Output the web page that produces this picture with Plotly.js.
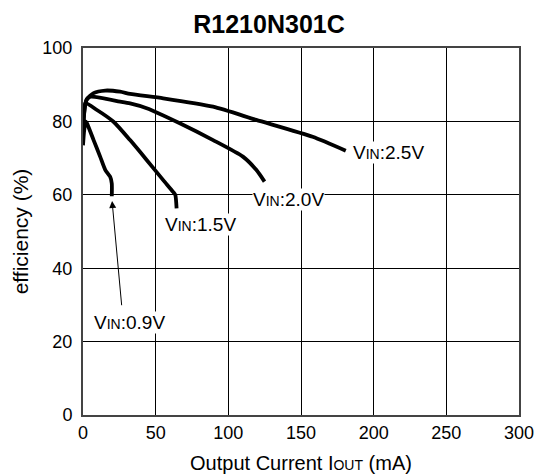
<!DOCTYPE html>
<html><head><meta charset="utf-8">
<script src="https://cdn.plot.ly/plotly-3.0.1.min.js"></script>
<style>body{margin:0;background:#fff}#c{width:538px;height:476px}</style>
</head><body><div id="c"></div>
<script>
const x09 = [0, 0.8, 1.8, 2.7, 7.3, 11.8, 15.3, 18.7, 19.8, 19.8];
const y09 = [73.5, 77.5, 80, 79.5, 74.9, 70.4, 66.8, 64.9, 63.1, 59.6];
const x15 = [0.3, 1.6, 9.6, 21, 32.4, 43.8, 55.2, 62, 63.5, 64.4];
const y15 = [78, 84.9, 83.1, 79.9, 74.9, 69.5, 64, 60.8, 60, 56.3];
const x20 = [0.3, 2, 5, 25.5, 32.4, 43.8, 66.6, 89.5, 110, 119.2, 124.9];
const y20 = [80, 85.5, 86.7, 85.4, 84.9, 83.6, 79.5, 74.9, 70.4, 66.8, 63.6];
const x25 = [0.3, 2.5, 7.3, 15.3, 25.5, 32.4, 55.2, 89.5, 119.2, 158, 180.8];
const y25 = [80, 86, 87.7, 88.4, 88.1, 87.5, 86.3, 84, 80.4, 75.8, 72];
const sub = s => '<span style="font-size:14px">' + s + '</span>';
const labels = ['V'+sub('IN')+':0.9V','V'+sub('IN')+':1.5V','V'+sub('IN')+':2.0V','V'+sub('IN')+':2.5V'];
const labelX = [6.8, 55.4, 116, 185];
const labelY = [25.1, 51.8, 58.8, 71.4];

const FF = 'Liberation Sans, Arial, sans-serif';
const line = {color:'#000', width:3.8, shape:'spline', smoothing:0.6};
const traces = [[x09,y09],[x15,y15],[x20,y20],[x25,y25]].map(([x,y])=>({x, y, mode:'lines', line, hoverinfo:'skip'}));

const annotations = labels.map((t,i)=>({x:labelX[i], y:labelY[i], xref:'x', yref:'y', text:t, showarrow:false, xanchor:'left', yanchor:'middle', bgcolor:'#fff', borderpad:0, font:{size:19, color:'#000', family:FF}}));
annotations.push({x:20, y:58.3, ax:26.7, ay:29.5, axref:'x', ayref:'y', xref:'x', yref:'y', text:'', showarrow:true, arrowhead:2, arrowsize:1.4, arrowwidth:1, arrowcolor:'#000'});

const axisFont = {size:18, color:'#000', family:FF};
Plotly.newPlot('c', traces, {
  width:538, height:476,
  margin:{l:83, r:19, t:48, b:61},
  paper_bgcolor:'#fff', plot_bgcolor:'#fff',
  showlegend:false,
  font:{family:FF, color:'#000'},
  title:{text:'<b>R1210N301C</b>', font:{size:25, color:'#000', family:FF}, x:0.5, xanchor:'center', y:0.95, yanchor:'middle'},
  xaxis:{range:[0,300], dtick:50, tick0:0, showgrid:true, gridcolor:'#000', gridwidth:1, zeroline:false, showline:true, linecolor:'#444', linewidth:2, mirror:true, ticks:'', tickfont:axisFont, fixedrange:true,
    title:{text:'Output Current I'+sub('OUT')+' (mA)', font:{size:20, color:'#000'}, standoff:14}},
  yaxis:{range:[0,100], dtick:20, tick0:0, showgrid:true, gridcolor:'#000', gridwidth:1, zeroline:false, showline:true, linecolor:'#444', linewidth:2, mirror:true, ticks:'', tickfont:axisFont, fixedrange:true, ticksuffix:' ',
    title:{text:'efficiency (%)', font:{size:21, color:'#000'}, standoff:8}},
  annotations
}, {staticPlot:true});
</script></body></html>
